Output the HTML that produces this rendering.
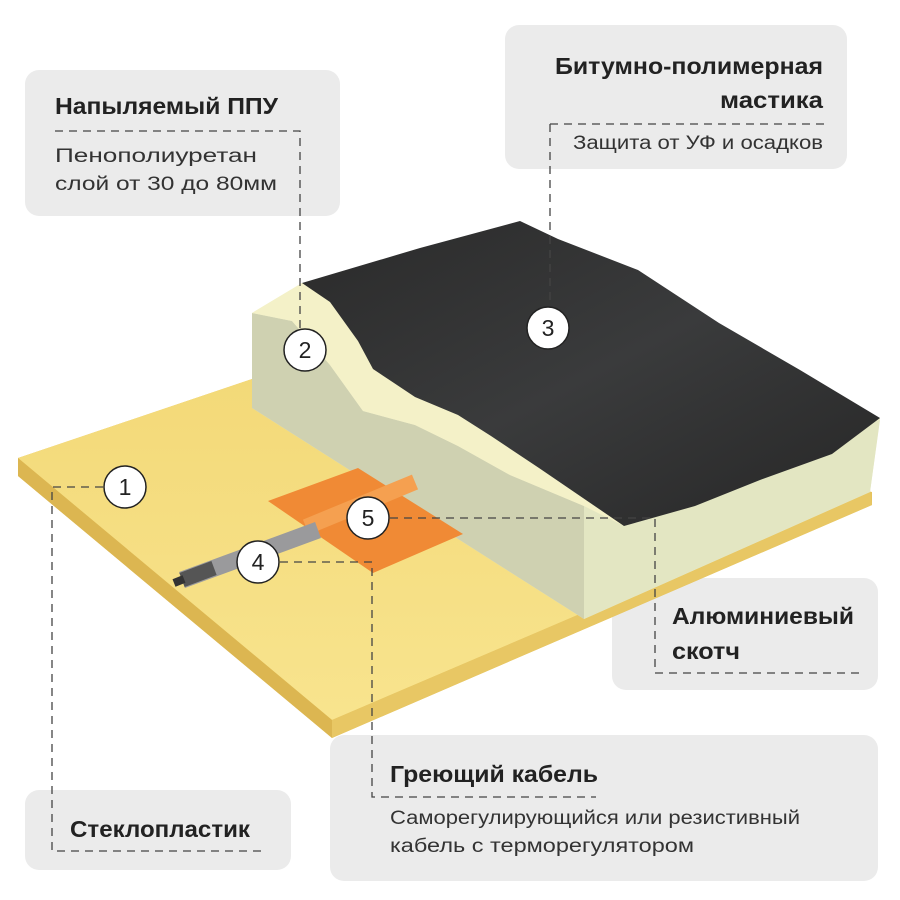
<!DOCTYPE html>
<html><head><meta charset="utf-8"><style>
body{margin:0;background:#fff;}
svg{display:block}
text{font-family:"Liberation Sans",sans-serif;fill:#222}
.t{font-weight:bold;font-size:23px}
.s{font-size:19px;fill:#333}
.d{stroke:#444;stroke-width:1.3;stroke-dasharray:8 6;fill:none}
.c{fill:#fff;stroke:#222;stroke-width:1.5}
.n{font-size:23px;text-anchor:middle}
</style></head><body>
<svg width="900" height="900" viewBox="0 0 900 900">
<defs>
<linearGradient id="bt" x1="0" y1="0" x2="1" y2="1"><stop offset="0" stop-color="#2a2a2a"/><stop offset="0.5" stop-color="#3a3b3c"/><stop offset="1" stop-color="#262626"/></linearGradient>
<linearGradient id="pl" x1="0" y1="0" x2="0" y2="1"><stop offset="0" stop-color="#f3d978"/><stop offset="1" stop-color="#f8e48e"/></linearGradient>
</defs>
<rect x="25" y="70" width="315" height="146" rx="14" fill="#ebebeb"/>
<rect x="505" y="25" width="342" height="144" rx="14" fill="#ebebeb"/>
<rect x="612" y="578" width="266" height="112" rx="14" fill="#ebebeb"/>
<rect x="330" y="735" width="548" height="146" rx="14" fill="#ebebeb"/>
<rect x="25" y="790" width="266" height="80" rx="14" fill="#ebebeb"/>
<polygon points="18,458 255,378 872,492 872,505 332,738 18,476" fill="#e6c35d"/>
<polygon points="18,458 255,378 870,490 332,720" fill="url(#pl)"/>
<polygon points="332,720 870,490 872,505 332,738" fill="#e8c764"/>
<polygon points="18,458 332,720 332,738 18,476" fill="#dcb651"/>
<polygon points="252,313 302,283 880,418 870,492 584,619 252,408" fill="#eeeecb"/>
<polygon points="584,506 880,420 870,492 584,619" fill="#e3e6c2"/>
<polygon points="252,313 292,321 330,365 363,411 415,425 458,446 510,475 584,506 584,619 252,408" fill="#cfd1b1"/>
<polygon points="252,313 302,283 330,302 358,341 373,369 415,397 458,415 491,436 539,468 624,526 584,506 510,475 458,446 415,425 363,411 330,365 292,321" fill="#f4f1c8"/>
<polygon points="302,283 420,248 520,221 558,239 638,270 719,323 800,370 880,418 832,454 760,480 695,506 624,526 539,468 491,436 458,415 415,397 373,369 358,341 330,302" fill="url(#bt)"/>
<polygon points="268,501 358,468 463,534 373,573" fill="#f08a35"/>
<line x1="306" y1="527" x2="415" y2="482" stroke="#f5a050" stroke-width="16"/>
<line x1="182" y1="580" x2="318" y2="530" stroke="#9a9a9c" stroke-width="17"/>
<line x1="182" y1="580" x2="214" y2="568" stroke="#555" stroke-width="15"/>
<line x1="174" y1="583" x2="184" y2="579" stroke="#333" stroke-width="8"/>
<path class="d" d="M55 131 H300 V330"/>
<path class="d" d="M550 124 H825 M550 124 V305"/>
<path class="d" d="M103 487 H52 V851 H262"/>
<path class="d" d="M390 518 H655 V673 H860"/>
<path class="d" d="M280 562 H372 V797 H596"/>
<circle class="c" cx="305" cy="350" r="21"/><text class="n" x="305" y="358">2</text>
<circle class="c" cx="548" cy="328" r="21"/><text class="n" x="548" y="336">3</text>
<circle class="c" cx="125" cy="487" r="21"/><text class="n" x="125" y="495">1</text>
<circle class="c" cx="368" cy="518" r="21"/><text class="n" x="368" y="526">5</text>
<circle class="c" cx="258" cy="562" r="21"/><text class="n" x="258" y="570">4</text>
<text class="t" x="55" y="114" textLength="223" lengthAdjust="spacingAndGlyphs">Напыляемый ППУ</text>
<text class="s" x="55" y="162" textLength="202" lengthAdjust="spacingAndGlyphs">Пенополиуретан</text>
<text class="s" x="55" y="190" textLength="222" lengthAdjust="spacingAndGlyphs">слой от 30 до 80мм</text>
<text class="t" x="555" y="74" textLength="268" lengthAdjust="spacingAndGlyphs">Битумно-полимерная</text>
<text class="t" x="720" y="108" textLength="103" lengthAdjust="spacingAndGlyphs">мастика</text>
<text class="s" x="573" y="149" textLength="250" lengthAdjust="spacingAndGlyphs">Защита от УФ и осадков</text>
<text class="t" x="672" y="624" textLength="182" lengthAdjust="spacingAndGlyphs">Алюминиевый</text>
<text class="t" x="672" y="659" textLength="68" lengthAdjust="spacingAndGlyphs">скотч</text>
<text class="t" x="390" y="782" textLength="208" lengthAdjust="spacingAndGlyphs">Греющий кабель</text>
<text class="s" x="390" y="824" textLength="410" lengthAdjust="spacingAndGlyphs">Саморегулирующийся или резистивный</text>
<text class="s" x="390" y="852" textLength="304" lengthAdjust="spacingAndGlyphs">кабель с терморегулятором</text>
<text class="t" x="70" y="837" textLength="180" lengthAdjust="spacingAndGlyphs">Стеклопластик</text>
</svg>
</body></html>
